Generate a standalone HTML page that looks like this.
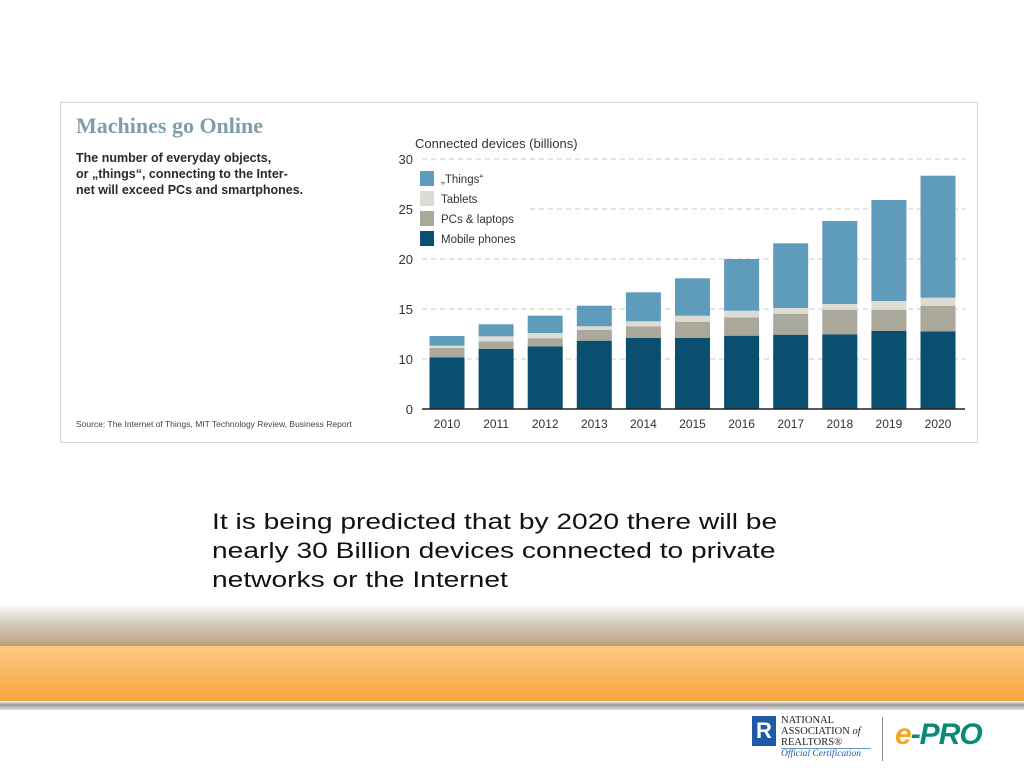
<!DOCTYPE html>
<html><head><meta charset="utf-8"><style>
body{margin:0;width:1024px;height:768px;position:relative;background:#fff;overflow:hidden;font-family:"Liberation Sans",sans-serif}
.abs{position:absolute}
</style></head><body>
<div class="abs" style="left:60px;top:102px;width:916px;height:339px;border:1px solid #d4d4d4;background:#fff"></div>
<div class="abs" style="left:76px;top:113px;font-family:'Liberation Serif',serif;font-size:22px;color:#7f9daa;font-weight:bold">Machines go Online</div>
<div class="abs" style="left:76px;top:150px;font-size:12.5px;font-weight:bold;color:#2a2a2a;line-height:16px">The number of everyday objects,<br>or „things“, connecting to the Inter-<br>net will exceed PCs and smartphones.</div>
<div class="abs" style="left:76px;top:419px;font-size:8.5px;color:#444">Source: The Internet of Things, MIT Technology Review, Business Report</div>
<svg class="abs" style="left:0;top:0" width="1024" height="460">
<text x="415" y="148" font-size="13" fill="#333" font-family="Liberation Sans">Connected devices (billions)</text>
<g id="grid"></g><g id="bars"></g><g id="axis"></g><g id="legend"></g>
</svg>
<div class="abs" style="left:212px;top:507px;font-size:22px;line-height:29px;color:#111;white-space:nowrap;transform:scaleX(1.28);transform-origin:0 0">It is being predicted that by 2020 there will be<br>nearly 30 Billion devices connected to private<br>networks or the Internet</div>
<div class="abs" style="left:0;top:604px;width:1024px;height:42px;background:linear-gradient(#fff,#d8d0c6 40%,#bba080)"></div>
<div class="abs" style="left:0;top:646px;width:1024px;height:55px;background:linear-gradient(#fcc880,#f9a540)"></div>
<div class="abs" style="left:0;top:701px;width:1024px;height:9px;background:linear-gradient(#fff,#999 40%,#ddd)"></div>
<div class="abs" style="left:752px;top:716px;width:24px;height:30px;background:#1f5aa6;color:#fff;font-weight:bold;font-size:22px;text-align:center;line-height:30px">R</div>
<div class="abs" style="left:781px;top:715px;font-family:'Liberation Serif',serif;font-size:10.5px;line-height:11px;color:#222">NATIONAL<br>ASSOCIATION <i>of</i><br>REALTORS®</div>
<div class="abs" style="left:781px;top:748px;border-top:1px solid #6a9ad0;font-family:'Liberation Serif',serif;font-style:italic;font-size:9.5px;color:#1f5aa6;width:90px;white-space:nowrap">Official Certification</div>
<div class="abs" style="left:882px;top:717px;width:1px;height:44px;background:#888"></div>
<div class="abs" style="left:895px;top:718px;font-size:30px;font-weight:bold;font-style:italic;letter-spacing:-1px"><span style="color:#f5a623">e</span><span style="color:#0a8a76">-PRO</span></div>
<script>
const categories=["2010","2011","2012","2013","2014","2015","2016","2017","2018","2019","2020"];
const mobile=[10.17,11.0,11.27,11.83,12.1,12.1,12.33,12.43,12.47,12.8,12.77];
const pcs=[0.93,0.77,0.8,1.1,1.17,1.63,1.84,2.1,2.46,2.13,2.56];
const tablets=[0.23,0.5,0.53,0.34,0.5,0.6,0.66,0.57,0.57,0.87,0.8];
const things=[0.97,1.2,1.73,2.06,2.9,3.74,5.17,6.47,8.3,10.1,12.2];
const ticks=[0,10,15,20,25,30];
const seriesNames=["Mobile phones","PCs & laptops","Tablets","„Things“"];
const colors=["#0a4f70","#aaa89a","#dcdcd4","#5f9bbb"];
const NS="http://www.w3.org/2000/svg";
function y(v){return v<=10?409-v*5:359-(v-10)*10;}
function x(i){return 447+i*49.1;}
function mk(t,a,p){const e=document.createElementNS(NS,t);for(const k in a)e.setAttribute(k,a[k]);document.getElementById(p).appendChild(e);return e;}
ticks.forEach(t=>{
  if(t>0){const g=mk("line",{x1:t===25?530:422,x2:965,y1:y(t),y2:y(t),stroke:"#c8c8c8","stroke-dasharray":"5,4"},"grid");
  
  }
  const l=mk("text",{x:413,y:y(t)+5,"text-anchor":"end","font-size":13,fill:"#333"},"axis");l.textContent=t;
  
  
});
const series=[mobile,pcs,tablets,things];
categories.forEach((c,i)=>{
  let base=0;
  series.forEach((s,k)=>{
    const top=base+s[i];
    const r=mk("rect",{x:x(i)-17.5,width:35,y:y(top),height:y(base)-y(top),fill:colors[k]},"bars");
    
    
    base=top;
  });
  const l=mk("text",{x:x(i),y:428,"text-anchor":"middle","font-size":12,fill:"#333"},"axis");l.textContent=c;
  
  
});
const ax=mk("line",{x1:422,x2:965,y1:409,y2:409,stroke:"#222","stroke-width":1.5},"axis");


[3,2,1,0].forEach((k,j)=>{
  const yy=171+j*20;
  const r=mk("rect",{x:420,y:yy,width:14,height:15,fill:colors[k]},"legend");
  
  
  const t=mk("text",{x:441,y:yy+12,"font-size":11.5,fill:"#333"},"legend");t.textContent=seriesNames[k];
  
  
});
</script>
</body></html>
